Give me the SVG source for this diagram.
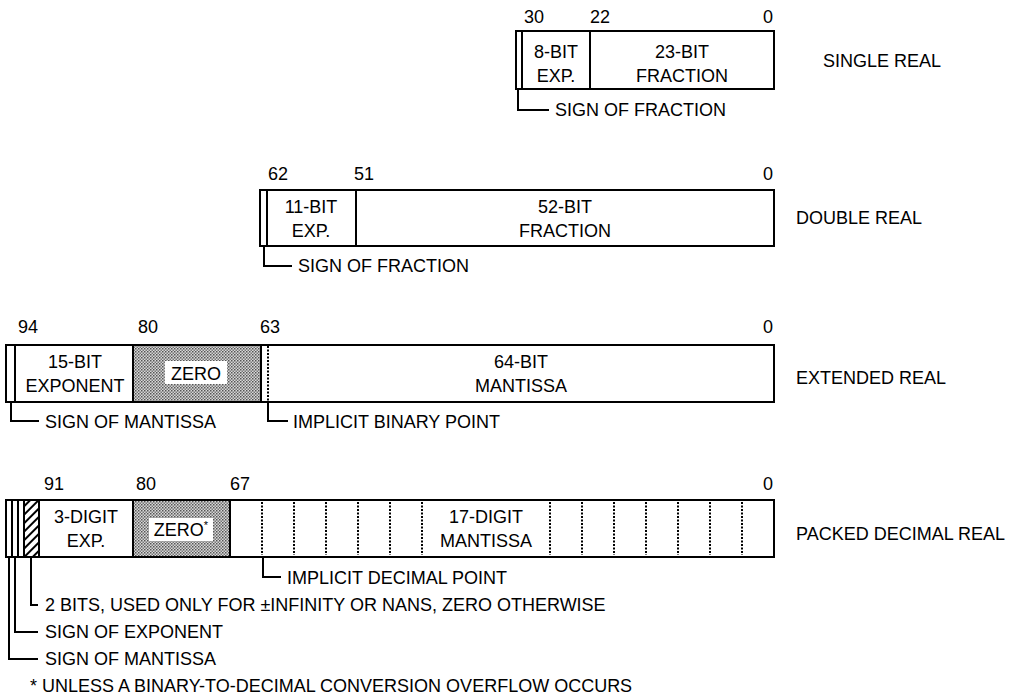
<svg xmlns="http://www.w3.org/2000/svg" width="1015" height="698" viewBox="0 0 1015 698">
<defs>
<style>
text{font-family:"Liberation Sans",Arial,sans-serif;font-size:18px;fill:#000}
.m{text-anchor:middle}
.b{fill:#fff;stroke:#000;stroke-width:2}
.l{fill:none;stroke:#000;stroke-width:2}
.d{fill:none;stroke:#000;stroke-width:2;stroke-dasharray:2,1.5}
.z{fill:url(#dots);stroke:#000;stroke-width:2}
</style>
<pattern id="dots" width="3" height="3" patternUnits="userSpaceOnUse">
<rect width="3" height="3" fill="#d8d8d8"/>
<rect width="1.5" height="1.5" fill="#555"/>
<rect x="1.5" y="1.5" width="1.5" height="1.5" fill="#777"/>
</pattern>
<pattern id="hatch" width="6" height="6" patternUnits="userSpaceOnUse" patternTransform="rotate(45)">
<rect width="6" height="6" fill="#fff"/>
<line x1="3" y1="0" x2="3" y2="6" stroke="#000" stroke-width="2"/>
</pattern>
</defs>
<rect width="1015" height="698" fill="#fff"/>

<g id="single">
<rect class="b" x="516" y="31" width="258" height="58"/>
<line class="l" x1="522" y1="31" x2="522" y2="89"/>
<line class="l" x1="590" y1="31" x2="590" y2="89"/>
<text class="m" x="534" y="23">30</text>
<text class="m" x="600" y="23">22</text>
<text class="m" x="768" y="23">0</text>
<text class="m" x="556" y="58">8-BIT</text>
<text class="m" x="556" y="82">EXP.</text>
<text class="m" x="682" y="58">23-BIT</text>
<text class="m" x="682" y="82">FRACTION</text>
<text x="823" y="67">SINGLE REAL</text>
<text x="555" y="116">SIGN OF FRACTION</text>
</g>

<g id="double">
<rect class="b" x="260" y="190" width="514" height="56"/>
<line class="l" x1="267" y1="190" x2="267" y2="246"/>
<line class="l" x1="356" y1="190" x2="356" y2="246"/>
<text class="m" x="278" y="180">62</text>
<text class="m" x="364" y="180">51</text>
<text class="m" x="768" y="180">0</text>
<text class="m" x="311" y="213">11-BIT</text>
<text class="m" x="311" y="237">EXP.</text>
<text class="m" x="565" y="213">52-BIT</text>
<text class="m" x="565" y="237">FRACTION</text>
<text x="796" y="224">DOUBLE REAL</text>
<text x="298" y="272">SIGN OF FRACTION</text>
</g>

<g id="extended">
<rect class="b" x="6" y="345" width="768" height="57"/>
<rect class="z" x="133" y="345" width="128" height="57"/>
<line class="l" x1="15" y1="345" x2="15" y2="402"/>
<line class="d" x1="268" y1="346" x2="268" y2="401"/>
<rect x="165" y="361" width="62" height="23" fill="#fff"/>
<text class="m" x="28" y="333">94</text>
<text class="m" x="148" y="333">80</text>
<text class="m" x="270" y="333">63</text>
<text class="m" x="768" y="333">0</text>
<text class="m" x="75" y="368">15-BIT</text>
<text class="m" x="75" y="392">EXPONENT</text>
<text class="m" x="196" y="380">ZERO</text>
<text class="m" x="521" y="368">64-BIT</text>
<text class="m" x="521" y="392">MANTISSA</text>
<text x="796" y="384">EXTENDED REAL</text>
<text x="45" y="428">SIGN OF MANTISSA</text>
<text x="293" y="428">IMPLICIT BINARY POINT</text>
</g>

<g id="packed">
<rect class="b" x="6" y="500" width="768" height="57"/>
<rect x="24" y="500" width="15" height="57" fill="url(#hatch)" stroke="#000" stroke-width="2"/>
<line class="l" x1="12" y1="500" x2="12" y2="557"/>
<line class="l" x1="18" y1="500" x2="18" y2="557"/>
<line class="l" x1="133" y1="500" x2="133" y2="557"/>
<rect class="z" x="133" y="500" width="97" height="57"/>
<rect x="149" y="518" width="64" height="23" fill="#fff"/>
<g class="dl">
<line class="d" x1="262" y1="502" x2="262" y2="555"/>
<line class="d" x1="294" y1="502" x2="294" y2="555"/>
<line class="d" x1="326" y1="502" x2="326" y2="555"/>
<line class="d" x1="358" y1="502" x2="358" y2="555"/>
<line class="d" x1="390" y1="502" x2="390" y2="555"/>
<line class="d" x1="422" y1="502" x2="422" y2="555"/>
<line class="d" x1="550" y1="502" x2="550" y2="555"/>
<line class="d" x1="582" y1="502" x2="582" y2="555"/>
<line class="d" x1="614" y1="502" x2="614" y2="555"/>
<line class="d" x1="646" y1="502" x2="646" y2="555"/>
<line class="d" x1="678" y1="502" x2="678" y2="555"/>
<line class="d" x1="710" y1="502" x2="710" y2="555"/>
<line class="d" x1="742" y1="502" x2="742" y2="555"/>
</g>
<text class="m" x="54" y="490">91</text>
<text class="m" x="146" y="490">80</text>
<text class="m" x="240" y="490">67</text>
<text class="m" x="768" y="490">0</text>
<text class="m" x="86" y="523">3-DIGIT</text>
<text class="m" x="86" y="547">EXP.</text>
<text x="181" y="536" text-anchor="middle">ZERO<tspan font-size="11" dy="-7">*</tspan></text>
<text class="m" x="486" y="523">17-DIGIT</text>
<text class="m" x="486" y="547">MANTISSA</text>
<text x="796" y="540">PACKED DECIMAL REAL</text>
<text x="287" y="584">IMPLICIT DECIMAL POINT</text>
<text x="45" y="611">2 BITS, USED ONLY FOR ±INFINITY OR NANS, ZERO OTHERWISE</text>
<text x="45" y="638">SIGN OF EXPONENT</text>
<text x="45" y="665">SIGN OF MANTISSA</text>
<text x="30" y="692">* UNLESS A BINARY-TO-DECIMAL CONVERSION OVERFLOW OCCURS</text>
</g>

<g id="connectors">
<polyline class="l" points="518,89 518,110 549,110"/>
<polyline class="l" points="264,246 264,266 292,266"/>
<polyline class="l" points="11,402 11,421 39,421"/>
<polyline class="l" points="268,402 268,421 288,421"/>
<polyline class="l" points="263,557 263,577 281,577"/>
<polyline class="l" points="31,557 31,605 38,605"/>
<polyline class="l" points="15,557 15,632 38,632"/>
<polyline class="l" points="9,557 9,659 38,659"/>
</g>
</svg>
